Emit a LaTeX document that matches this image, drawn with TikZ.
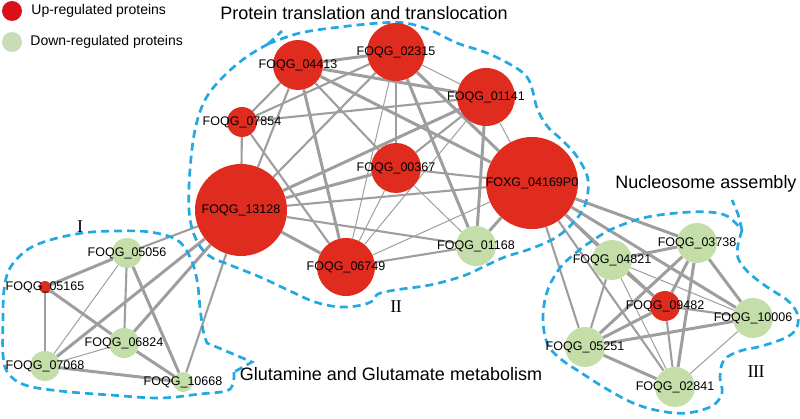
\documentclass[tikz,border=0pt]{standalone}
\usepackage{fontspec}
\setmainfont{Liberation Sans}
\newfontfamily\romanfont{Liberation Serif}
\usetikzlibrary{positioning,backgrounds}
\definecolor{upred}{HTML}{E02B1F}
\definecolor{downgreen}{HTML}{C3DEA8}
\definecolor{legendred}{HTML}{D8101A}
\definecolor{legendgreen}{HTML}{C8DCB8}
\definecolor{edgegray}{HTML}{9E9E9E}
\definecolor{hullblue}{HTML}{22A9E1}
\newcommand{\idfont}{\fontsize{12.5}{14}\selectfont}
\newcommand{\titlefont}{\fontsize{18}{20}\selectfont}
\tikzset{
    node style up/.style={circle,fill=upred,minimum size=#1,inner sep=0pt},
    node style down/.style={circle,fill=downgreen,minimum size=#1,inner sep=0pt},
    id label/.style={font=\idfont,inner sep=0pt},
    edge style thick/.style={draw=edgegray,line width=3pt},
    edge style mid/.style={draw=edgegray,line width=2.1pt},
    edge style thin/.style={draw=edgegray,line width=1pt},
    hull style/.style={draw=hullblue,line width=2.7pt,dash pattern=on 8pt off 5pt},
    title style/.style={font=\titlefont,inner sep=0pt},
    legend style/.style={font=\fontsize{14}{16}\selectfont,inner sep=0pt},
    numeral style/.style={font=\romanfont\fontsize{18}{19}\selectfont,inner sep=0pt},
}

\begin{document}
\begin{tikzpicture}[x=1pt,y=-1pt]
\useasboundingbox (0,0) rectangle (800,419);
% legende
\node [circle,fill=legendred,minimum size=20pt,inner sep=0pt] (legup) at (12,11) {};
\node [legend style,right=9pt of legup] (leguptext) {Up-regulated proteins};
\node [circle,fill=legendgreen,minimum size=20pt,inner sep=0pt] (legdown) at (12,42) {};
\node [legend style,right=8pt of legdown] (legdowntext) {Down-regulated proteins};

% module II
\node [node style up=50pt,label={[id label]center:FOQG\_04413}] (q04413) at (298,65) {};
\node [node style up=58pt,label={[id label]center:FOQG\_02315}] (q02315) at (396,52) {};
\node [node style up=58pt,label={[id label]center:FOQG\_01141}] (q01141) at (486,97) {};
\node [node style up=30pt,label={[id label]center:FOQG\_07854}] (q07854) at (242,122) {};
\node [node style up=50pt,label={[id label]center:FOQG\_00367}] (q00367) at (396,168) {};
\node [node style up=92pt,label={[id label]center:FOXG\_04169P0}] (x04169) at (532,183) {};
\node [node style up=92pt,label={[id label]center:FOQG\_13128}] (q13128) at (241,210) {};
\node [node style up=58pt,label={[id label]center:FOQG\_06749}] (q06749) at (346,267) {};
\node [node style down=40pt,label={[id label]center:FOQG\_01168}] (q01168) at (476,246) {};

% module I
\node [node style down=30pt,label={[id label]center:FOQG\_05056}] (q05056) at (127,253) {};
\node [node style up=12pt,label={[id label]center:FOQG\_05165}] (q05165) at (45,287) {};
\node [node style down=30pt,label={[id label]center:FOQG\_06824}] (q06824) at (124,343) {};
\node [node style down=30pt,label={[id label]center:FOQG\_07068}] (q07068) at (45,366) {};
\node [node style down=20pt,label={[id label]center:FOQG\_10668}] (q10668) at (183,382) {};

% module III
\node [node style down=40pt,label={[id label]center:FOQG\_03738}] (q03738) at (697,243) {};
\node [node style down=40pt,label={[id label]center:FOQG\_04821}] (q04821) at (612,260) {};
\node [node style up=30pt,label={[id label]center:FOQG\_09482}] (q09482) at (665,306) {};
\node [node style down=40pt,label={[id label]center:FOQG\_10006}] (q10006) at (753,318) {};
\node [node style down=40pt,label={[id label]center:FOQG\_05251}] (q05251) at (585,347) {};
\node [node style down=40pt,label={[id label]center:FOQG\_02841}] (q02841) at (675,387) {};

% titres
\node [title style] (titleII) at (364,13) {Protein translation and translocation};
\node [title style] (titleIII) at (706,184) {Nucleosome assembly};
\node [title style] (titleI) at (391,374) {Glutamine and Glutamate metabolism};
\node [numeral style] (numI) at (80,227) {I};
\node [numeral style] (numII) at (396,307) {I\kern-0.5pt I};
\node [numeral style] (numIII) at (756,372) {I\kern-0.5pt I\kern-0.5pt I};

\begin{pgfonlayer}{background}
% les liens
\foreach \a/\b in {q04413/q02315,q04413/q01141,q04413/x04169,q04413/q06749,
    q02315/x04169,q02315/q01168,q01141/q13128,q01141/q01168,q00367/q13128,
    x04169/q01168,q13128/q06749,
    q13128/q07068,q13128/q06824,q05056/q05165,q05056/q10668,q05165/q06824,
    q06824/q10668,q07068/q10668,
    x04169/q03738,x04169/q10006,q03738/q04821,q03738/q09482,q03738/q10006,
    q03738/q05251,q03738/q02841,q04821/q09482,q09482/q05251,q10006/q05251,
    q05251/q02841}
    \draw [edge style thick] (\a) -- (\b);
\foreach \a/\b in {q04413/q07854,q04413/q00367,q04413/q13128,q02315/q07854,
    q02315/q00367,q02315/q13128,q01141/q07854,q01141/q00367,q07854/q13128,
    q07854/q06749,q00367/x04169,x04169/q13128,q13128/q01168,q06749/q01168,
    q13128/q05056,q13128/q10668,q05056/q06824,q05165/q07068,
    x04169/q04821,x04169/q09482,x04169/q05251,x04169/q02841,q04821/q05251,
    q09482/q10006,q09482/q02841}
    \draw [edge style mid] (\a) -- (\b);
\foreach \a/\b in {q02315/q01141,q02315/q06749,q01141/x04169,q01141/q06749,
    q00367/q06749,q00367/q01168,x04169/q06749,
    q05056/q07068,q06824/q07068,
    q04821/q10006,q04821/q02841,q10006/q02841}
    \draw [edge style thin] (\a) -- (\b);
% les modules
\draw [hull style] plot [smooth,tension=0.6] coordinates {
    (268,44) (300,33) (340,27) (380,23) (405,23) (430,30) (457,43) (487,53)
    (513,66) (527,77) (533,92) (537,108) (547,126) (563,141) (578,158)
    (588,180) (585,205) (573,223) (555,238) (530,249) (505,257) (485,266)
    (463,276) (430,285) (395,290) (378,294) (374,300) (362,305) (340,307)
    (315,302) (290,291) (260,277) (230,265) (208,255) (195,237) (189,210)
    (190,170) (195,130) (205,100) (222,78) (245,58) (268,44)};
\draw [hull style] (268,44) -- (282,31);
\draw [hull style] plot [smooth,tension=0.6] coordinates {
    (234,372) (233,384) (226,391) (200,394) (160,398) (110,395) (60,391)
    (25,385) (8,373) (3,355) (3,320) (4,290) (10,268) (27,250) (50,240)
    (83,233) (115,231) (150,232) (177,240) (190,257) (197,280) (200,307)
    (203,330) (207,343)} -- (252,362) -- (234,372);
\draw [hull style] plot [smooth,tension=0.6] coordinates {
    (742,230) (738,245) (738,258) (748,272) (767,287) (787,300) (797,313)
    (797,327) (787,337) (762,346) (740,351) (724,360) (720,377) (722,393)
    (712,406) (687,413) (660,411) (633,403) (605,388) (580,372) (562,360)
    (548,345) (543,320) (547,292) (560,268) (578,251) (595,239) (612,229)
    (643,218) (677,213) (707,212) (727,216) (742,230)};
\draw [hull style] (742,230) -- (738,214) -- (732,200);
\end{pgfonlayer}
\end{tikzpicture}
\end{document}
